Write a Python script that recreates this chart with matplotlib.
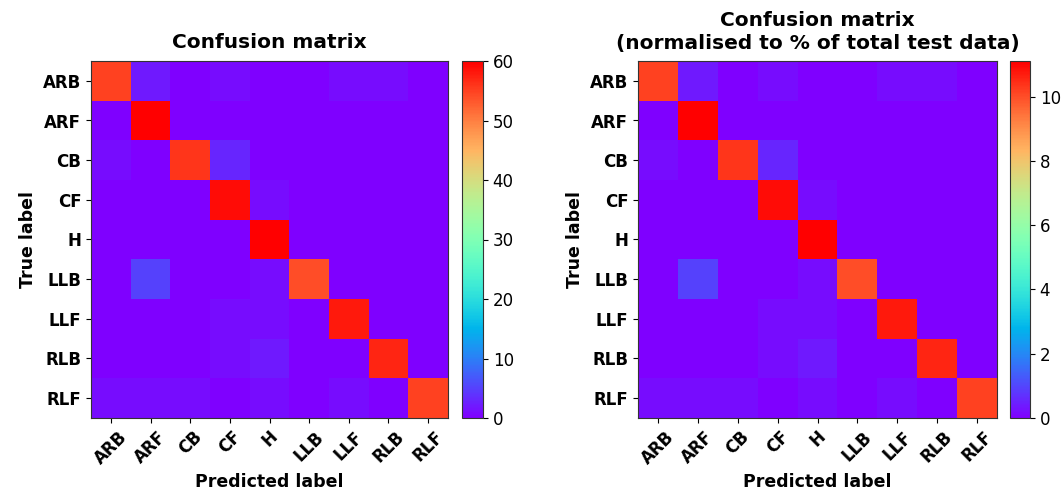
import numpy as np
import matplotlib
matplotlib.use("Agg")
import matplotlib.pyplot as plt

classes = ["ARB", "ARF", "CB", "CF", "H", "LLB", "LLF", "RLB", "RLF"]
row_ARB = [55, 2, 0, 1, 0, 0, 1, 1, 0]
row_ARF = [0, 60, 0, 0, 0, 0, 0, 0, 0]
row_CB  = [1, 0, 56, 3, 0, 0, 0, 0, 0]
row_CF  = [0, 0, 0, 59, 1, 0, 0, 0, 0]
row_H   = [0, 0, 0, 0, 60, 0, 0, 0, 0]
row_LLB = [0, 5, 0, 0, 1, 54, 0, 0, 0]
row_LLF = [0, 0, 0, 1, 1, 0, 58, 0, 0]
row_RLB = [0, 0, 0, 1, 2, 0, 0, 57, 0]
row_RLF = [1, 1, 1, 0, 1, 0, 1, 0, 55]

cm = np.array([row_ARB, row_ARF, row_CB, row_CF, row_H, row_LLB, row_LLF, row_RLB, row_RLF], dtype=float)
cm_pct = cm / cm.sum() * 100

fig = plt.figure(figsize=(10.62, 4.91), dpi=100)
W, H = 1062, 491

def axbox(x0, x1, y0, y1):
    return [x0 / W, (H - y1) / H, (x1 - x0) / W, (y1 - y0) / H]

def draw(ax, cax, data, title):
    im = ax.imshow(data, cmap="rainbow", interpolation="nearest", aspect="auto")
    ax.set_title(title, fontweight="bold", fontsize=14.5, pad=9)
    ticks = np.arange(len(classes))
    ax.set_xticks(ticks)
    ax.set_yticks(ticks)
    ax.set_xticklabels(classes, rotation=45, fontweight="bold", fontsize=12)
    ax.set_yticklabels(classes, fontweight="bold", fontsize=12)
    ax.set_xlabel("Predicted label", fontweight="bold", fontsize=12.5)
    ax.set_ylabel("True label", fontweight="bold", fontsize=12.5)
    for s in ax.spines.values():
        s.set_edgecolor("#333333")
    cb = fig.colorbar(im, cax=cax)
    cb.ax.tick_params(labelsize=12)
    cb.outline.set_edgecolor("#333333")
    return cb

ax1 = fig.add_axes(axbox(91, 448, 61, 418))
cax1 = fig.add_axes(axbox(462, 483, 61, 418))
draw(ax1, cax1, cm, "Confusion matrix")

ax2 = fig.add_axes(axbox(638, 997, 61, 418))
cax2 = fig.add_axes(axbox(1010, 1030, 61, 418))
draw(ax2, cax2, cm_pct, "Confusion matrix\n(normalised to % of total test data)")

fig.savefig("out.png", dpi=100)
